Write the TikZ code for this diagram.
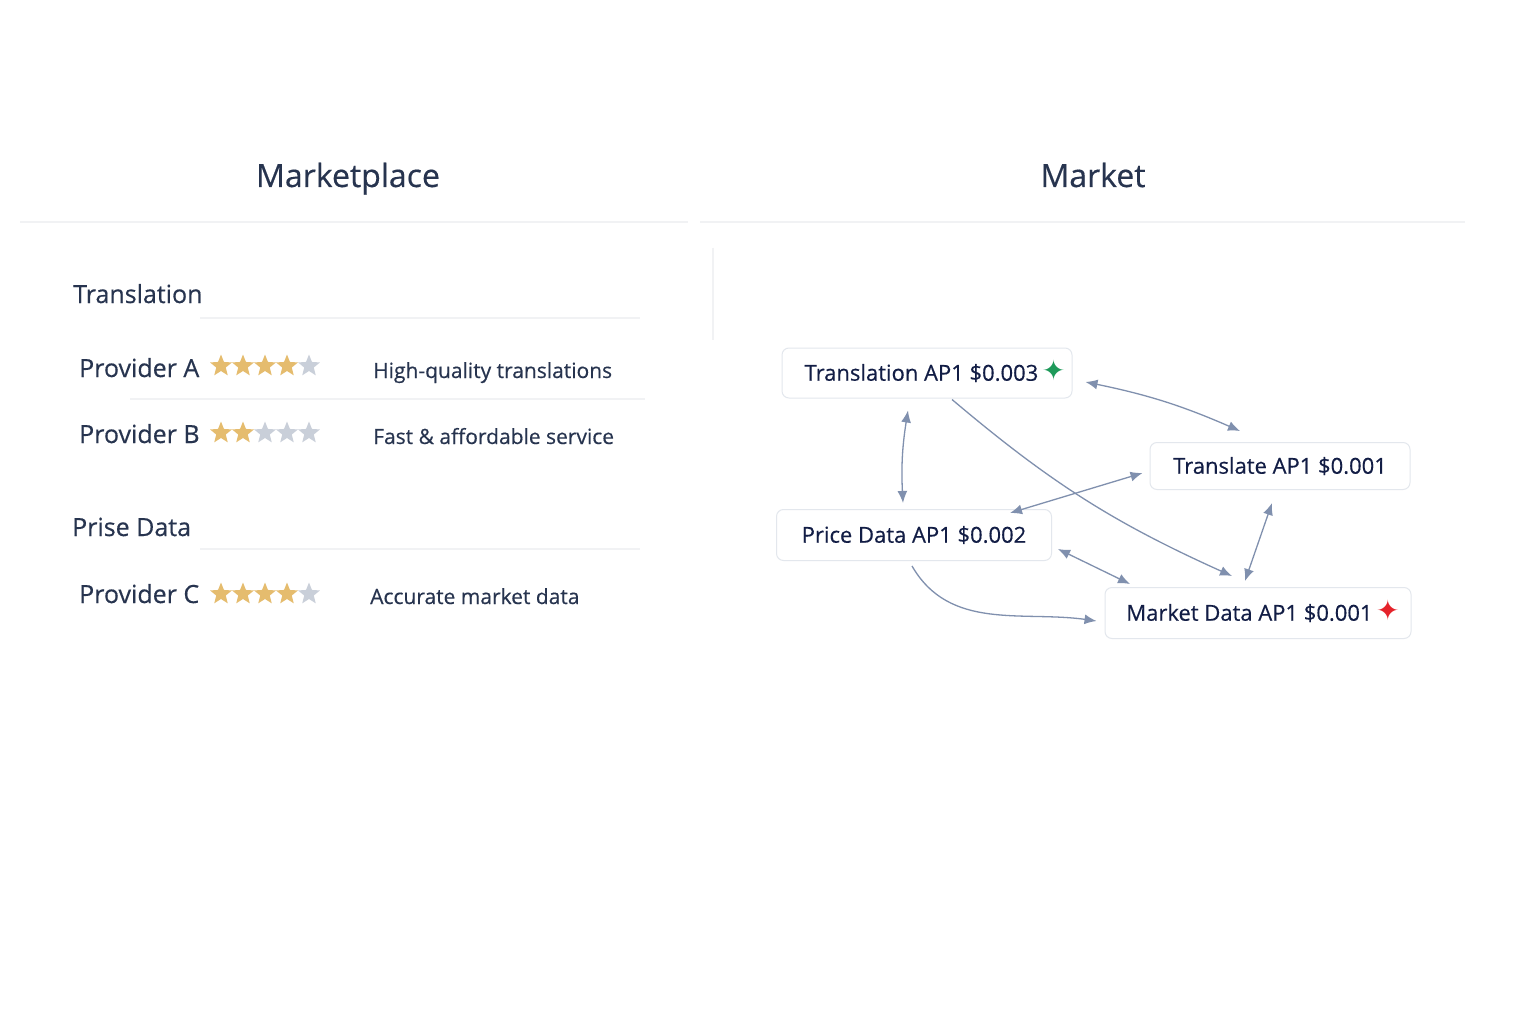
\documentclass[tikz,border=0pt]{standalone}
\usepackage{fontspec}
\setmainfont{Open Sans}[FakeBold=0.4]
\newfontfamily\symfont{DejaVu Sans}
\usetikzlibrary{shapes.geometric,arrows.meta}

\definecolor{inknavy}{HTML}{27344F}
\definecolor{apinavy}{HTML}{121D45}
\definecolor{rulegray}{HTML}{F1F2F4}
\definecolor{boxedge}{HTML}{E3E7ED}
\definecolor{stargold}{HTML}{E5BC6E}
\definecolor{stargrey}{HTML}{C9CFD9}
\definecolor{linkblue}{HTML}{8090AE}
\definecolor{plusgreen}{HTML}{1E9A5A}
\definecolor{plusred}{HTML}{E5232B}

\tikzset{
	heading/.style={anchor=base,text=inknavy,font=\fontsize{32}{38}\selectfont},
	section/.style={anchor=base west,text=inknavy,font=\fontsize{25}{30}\selectfont,inner sep=0pt},
	provider/.style={anchor=base west,text=inknavy,font=\fontsize{25}{30}\selectfont,inner sep=0pt},
	blurb/.style={anchor=base west,text=inknavy,font=\fontsize{21}{25}\selectfont,inner sep=0pt},
	rule/.style={draw=rulegray,line width=1.2pt},
	ratestar/.style={star,star points=5,star point ratio=2.3,minimum size=23pt,inner sep=0pt,draw=none},
	api/.style={draw=boxedge,line width=1pt,rounded corners=7pt,fill=white,text=apinavy,font=\fontsize{22}{26}\selectfont},
	link/.style={draw=linkblue,line width=1.3pt,-{Latex[length=12pt,width=10pt]}},
	twolink/.style={link,{Latex[length=12pt,width=10pt]}-{Latex[length=12pt,width=10pt]}}
}
\newcommand{\sparkle}[1]{\smash{\symfont\fontsize{28}{28}\selectfont\color{#1}✦}}

\begin{document}
\begin{tikzpicture}[x=1pt,y=-1pt]
	\useasboundingbox[fill=white] (0,0) rectangle (1536,1024);

	%titles
	\node[heading] (place) at (348,187) {Marketplace};
	\node[heading] (market) at (1093,187) {Market};
	\draw[rule] (20,222)--(688,222);
	\draw[rule] (700,222)--(1465,222);
	\draw[rule] (713,248)--(713,340);

	%translation providers
	\node[section] (transhead) at (73,303) {Translation};
	\draw[rule] (200,318)--(640,318);
	\node[provider] (provA) at (79,377) {Provider A};
	\node[blurb] (textA) at (373,378) {High-quality translations};
	\draw[rule] (130,399)--(645,399);
	\node[provider] (provB) at (79,443) {Provider B};
	\node[blurb] (textB) at (373,444) {Fast \& affordable service};

	%price data provider
	\node[section] (pricehead) at (72,536) {Prise Data};
	\draw[rule] (200,549)--(640,549);
	\node[provider] (provC) at (79,603) {Provider C};
	\node[blurb] (textC) at (370,604) {Accurate market data};

	%ratings
	\foreach \row/\y/\n in {A/366/4,B/433/2,C/594/4}{
		\foreach \i in {1,...,5}{
			\ifnum\i>\n\relax\def\starcol{stargrey}\else\def\starcol{stargold}\fi
			\node[ratestar,fill=\starcol] (star\row\i) at ({199+22*\i},\y) {};
		}
	}

	%api boxes
	\node[api,minimum width=290pt,minimum height=50pt] (tapi) at (927,373)
		{\hspace{16pt}Translation AP1 \$0.003\,\sparkle{plusgreen}};
	\node[api,minimum width=260pt,minimum height=47pt] (tlapi) at (1280,466)
		{Translate AP1 \$0.001};
	\node[api,minimum width=275pt,minimum height=51pt] (papi) at (914,535)
		{Price Data AP1 \$0.002};
	\node[api,minimum width=306pt,minimum height=51pt] (mapi) at (1258,613)
		{\hspace{10pt}Market Data AP1 \$0.001\,\sparkle{plusred}};

	%links
	\draw[twolink] ([shift={(13,9)}]tapi.east) to[bend left=6] ([shift={(-40,-11)}]tlapi.north);
	\draw[twolink] ([shift={(-19,12)}]tapi.south) to[bend right=6] ([shift={(-11,-6)}]papi.north);
	\draw[link] ([shift={(25,1)}]tapi.south) to[bend right=8] ([shift={(-26,-11)}]mapi.north);
	\draw[twolink] ([shift={(-7,7)}]tlapi.west) -- ([shift={(96,4)}]papi.north);
	\draw[twolink] ([shift={(-8,13)}]tlapi.south) -- ([shift={(-13,-6)}]mapi.north);
	\draw[twolink] ([shift={(6,14)}]papi.east) -- ([shift={(-128,-3)}]mapi.north);
	\draw[link] ([shift={(-2,5)}]papi.south) to[out=-60,in=172] ([shift={(-8,8)}]mapi.west);
\end{tikzpicture}
\end{document}
